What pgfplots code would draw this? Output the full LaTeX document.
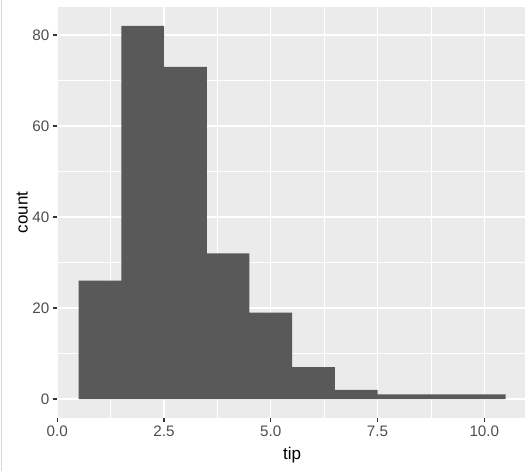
\documentclass[border=0pt]{standalone}
\usepackage{fontspec}
\setmainfont{Liberation Sans}
\usepackage{pgfplots}
\pgfplotsset{compat=1.18}
\definecolor{panel}{HTML}{EBEBEB}
\definecolor{barfill}{HTML}{595959}
\definecolor{ticktext}{HTML}{4D4D4D}
\definecolor{tickline}{HTML}{333333}
\definecolor{frameline}{HTML}{D9D9D9}

\begin{document}
\begin{tikzpicture}
  \begin{axis}[
    scale only axis, width=469.7pt, height=410.5pt,
    at={(0,0)}, anchor=south west,
    xmin=0, xmax=11, ymin=-4.1, ymax=86.1,
    axis background/.style={fill=panel},
    axis line style={draw=none},
    xtick={0,2.5,5,7.5,10}, xticklabels={0.0,2.5,5.0,7.5,10.0},
    ytick={0,20,40,60,80},
    minor xtick={1.25,3.75,6.25,8.75}, minor ytick={10,30,50,70},
    grid=both,
    major grid style={white, line width=1.3pt},
    minor grid style={white, line width=0.65pt},
    tick align=outside, major tick length=4.5pt, minor tick length=0pt,
    tick style={tickline, line width=1.2pt},
    xtick pos=left, ytick pos=left,
    tick label style={font=\fontsize{15.2}{18}\selectfont, text=ticktext},
    /pgf/number format/assume math mode=true,
    xlabel={tip}, ylabel={count},
    label style={font=\fontsize{17}{20}\selectfont},
    xlabel style={at={(rel axis cs:0.5,0)}, anchor=center, yshift=-37.5pt},
    ylabel style={at={(rel axis cs:0,0.5)}, anchor=center, yshift=35pt},
  ]
  % binwidth 1, bins centred on integers
  \addplot[ybar interval, fill=barfill, draw=none] coordinates {
    (0.5,26)(1.5,82)(2.5,73)(3.5,32)(4.5,19)(5.5,7)
    (6.5,2)(7.5,1)(8.5,1)(9.5,1)(10.5,1)
  };
  \end{axis}
  \draw[frameline, line width=1pt] (-55.3pt,-53.3pt) -- (-55.3pt,418pt);
  \pgfresetboundingbox
  \path[use as bounding box] (-57.3pt,-53.3pt) rectangle (467.7pt,417.7pt);
\end{tikzpicture}
\end{document}
